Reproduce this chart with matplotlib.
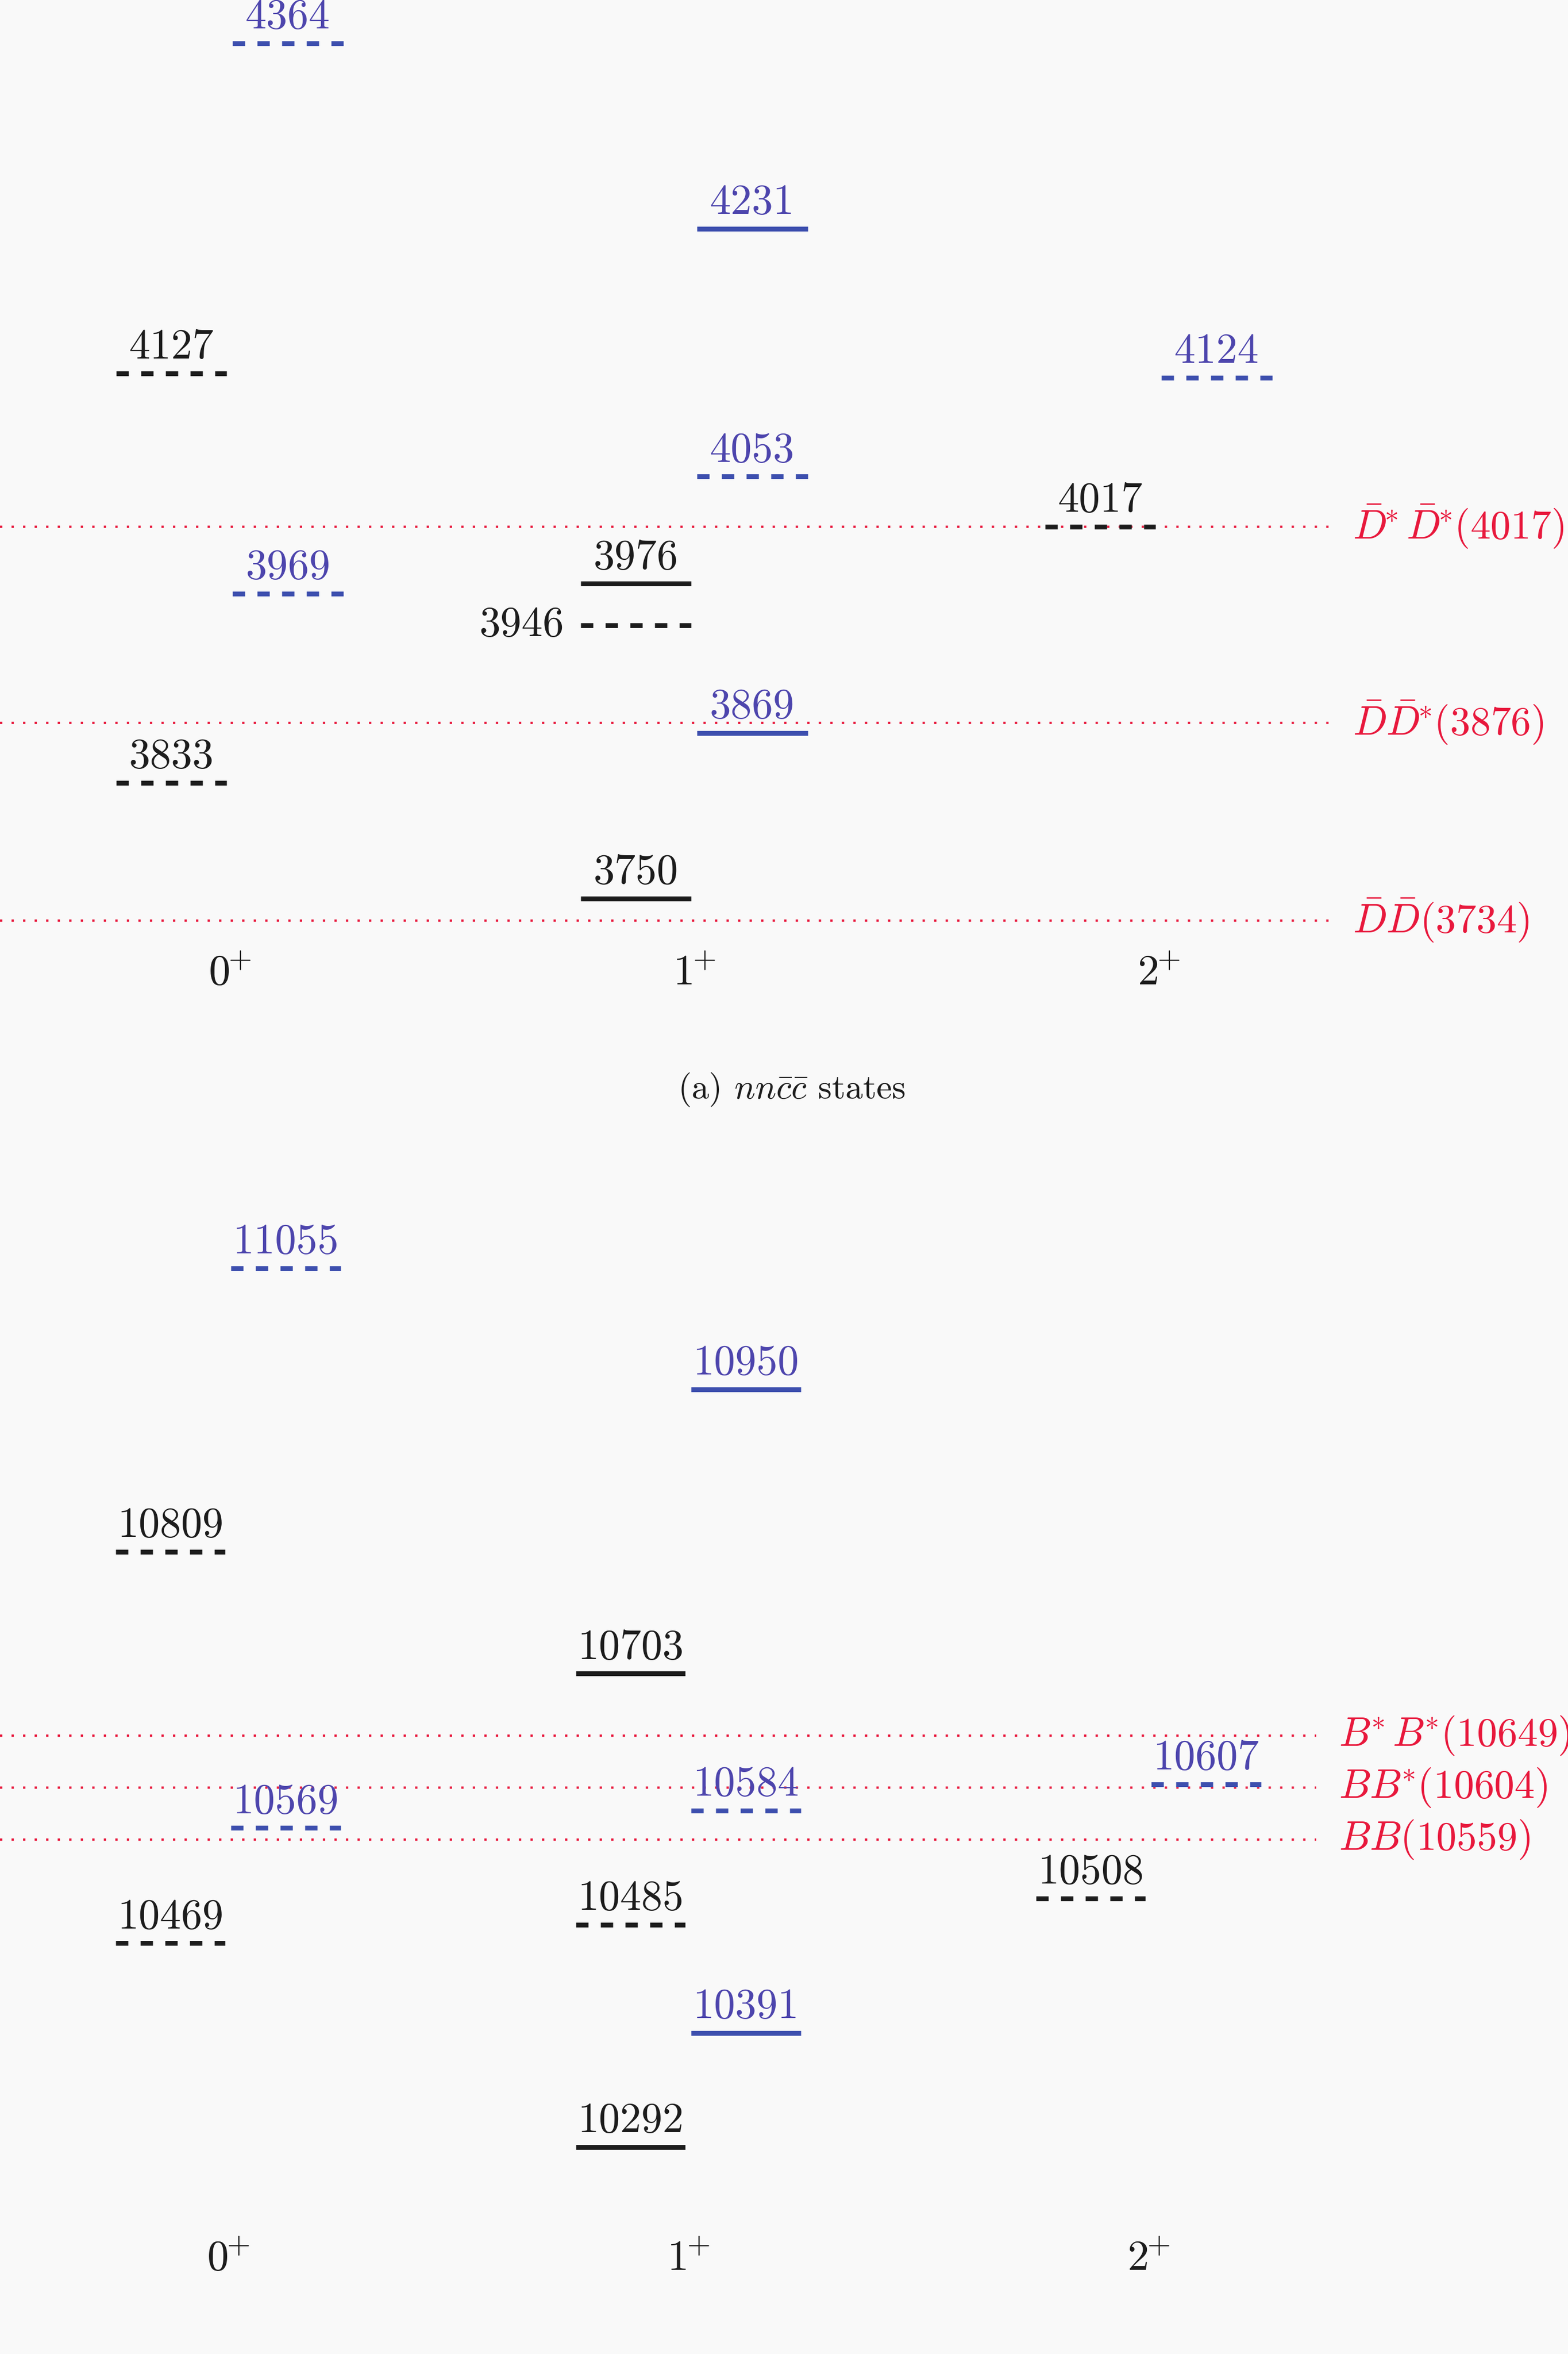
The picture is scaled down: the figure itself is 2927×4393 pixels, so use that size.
import matplotlib
matplotlib.use("Agg")
import matplotlib.pyplot as plt

plt.rcParams["font.family"] = "serif"
plt.rcParams["font.serif"] = ["cmr10", "DejaVu Serif"]
plt.rcParams["mathtext.fontset"] = "cm"
plt.rcParams["axes.unicode_minus"] = False
plt.rcParams["axes.formatter.use_mathtext"] = True

BLACK = "#1c1c1c"
BLUE_LINE = "#3d4fae"
BLUE_TEXT = "#4d45ad"
RED = "#e8183c"
BG = "#f9f9f9"

spin_labels = [r"$0^{\!\!+}$", r"$1^{\!\!+}$", r"$2^{\!\!+}$"]

# nn cc states (MeV)
cc_black_J = [0, 0, 1, 1, 1, 2]
cc_black_mass = [4127, 3833, 3976, 3946, 3750, 4017]
cc_black_solid = [False, False, True, False, True, False]
cc_blue_J = [0, 0, 1, 1, 1, 2]
cc_blue_mass = [4364, 3969, 4231, 4053, 3869, 4124]
cc_blue_solid = [False, False, True, False, True, False]
cc_thr_names = [r"$\bar{D}^{\!\!*}\bar{D}^{\!\!*}\!(4017)$", r"$\bar{D}\bar{D}^{\!\!*}\!(3876)$",
                r"$\bar{D}\bar{D}(3734)$"]
cc_thr_mass = [4017, 3876, 3734]

# nn bb states (MeV)
bb_black_J = [0, 0, 1, 1, 1, 2]
bb_black_mass = [10809, 10469, 10703, 10485, 10292, 10508]
bb_black_solid = [False, False, True, False, True, False]
bb_blue_J = [0, 0, 1, 1, 1, 2]
bb_blue_mass = [11055, 10569, 10950, 10584, 10391, 10607]
bb_blue_solid = [False, False, True, False, True, False]
bb_thr_names = [r"$B^{\!\!*}B^{\!\!*}\!(10649)$", r"$BB^{\!\!*}\!(10604)$", r"$BB(10559)$"]
bb_thr_mass = [10649, 10604, 10559]

W, H = 2927, 4393
fig = plt.figure(figsize=(W / 100, H / 100), dpi=100, facecolor=BG)

LW = 6.5
DASH = (0, (2.55, 2.55))
DOT = (0, (1, 4.0))


def make_axes(top_px, bottom_px, ref_px, ref_mass, px_per_mev, j0_px, unit_px):
    ax = fig.add_axes([0, 1 - bottom_px / H, 1, (bottom_px - top_px) / H])
    ax.set_facecolor(BG)
    ax.set_xlim(-j0_px / unit_px, (W - j0_px) / unit_px)
    e_top = ref_mass + (ref_px - top_px) / px_per_mev
    e_bot = ref_mass - (bottom_px - ref_px) / px_per_mev
    ax.set_ylim(e_bot, e_top)
    ax.axis("off")
    return ax


def draw_panel(ax, black_J, black_mass, black_solid, blue_J, blue_mass, blue_solid,
               thr_names, thr_mass, thr_end, thr_x, spin_mass, left_label=None):
    x0 = ax.get_xlim()[0]
    for name, m in zip(thr_names, thr_mass):
        ax.plot([x0, thr_end], [m, m], color=RED, lw=3.1, ls=DOT, zorder=1)
        ax.text(thr_x, m, name, color=RED, fontsize=54.5, ha="left", va="center")

    groups = [(black_J, black_mass, black_solid, -0.245, -0.007, BLACK, BLACK),
              (blue_J, blue_mass, blue_solid, 0.006, 0.244, BLUE_LINE, BLUE_TEXT)]
    for Js, masses, solids, a, b, lc, tc in groups:
        for J, m, solid in zip(Js, masses, solids):
            ax.plot([J + a, J + b], [m, m], color=lc, lw=LW,
                    ls="-" if solid else DASH, solid_capstyle="butt",
                    dash_capstyle="butt", zorder=3)
            if left_label is not None and m == left_label:
                ax.annotate(str(m), (J + a, m), xytext=(-22, 0), textcoords="offset points",
                            ha="right", va="center", fontsize=57, color=tc)
            else:
                ax.annotate(str(m), ((2 * J + a + b) / 2, m), xytext=(0, 20),
                            textcoords="offset points", ha="center", va="baseline",
                            fontsize=57, color=tc)

    for J, lab in enumerate(spin_labels):
        ax.text(J, spin_mass, lab, fontsize=58, ha="center", va="baseline", color=BLACK)


# top panel
ax1 = make_axes(0, 2100, 81, 4364, 2.599, 429, 867)
draw_panel(ax1, cc_black_J, cc_black_mass, cc_black_solid, cc_blue_J, cc_blue_mass,
           cc_blue_solid, cc_thr_names, cc_thr_mass, 2.368, 2.418,
           4364 - (1838 - 81) / 2.599, left_label=3946)

# bottom panel
ax2 = make_axes(2100, H, 2367, 11055, 2.149, 426, 859)
draw_panel(ax2, bb_black_J, bb_black_mass, bb_black_solid, bb_blue_J, bb_blue_mass,
           bb_blue_solid, bb_thr_names, bb_thr_mass, 2.364, 2.413,
           11055 - (4237 - 2367) / 2.149)

fig.text(1478 / W, 1 - 2050 / H, r"(a) $nn\bar{c}\bar{c}$ states", fontsize=47,
         ha="center", va="baseline", color=BLACK)
fig.text(1475 / W, 1 - 4452 / H, r"(b) $nn\bar{b}\bar{b}$ states", fontsize=47,
         ha="center", va="baseline", color=BLACK)

fig.savefig("out.png", dpi=100, facecolor=BG)
